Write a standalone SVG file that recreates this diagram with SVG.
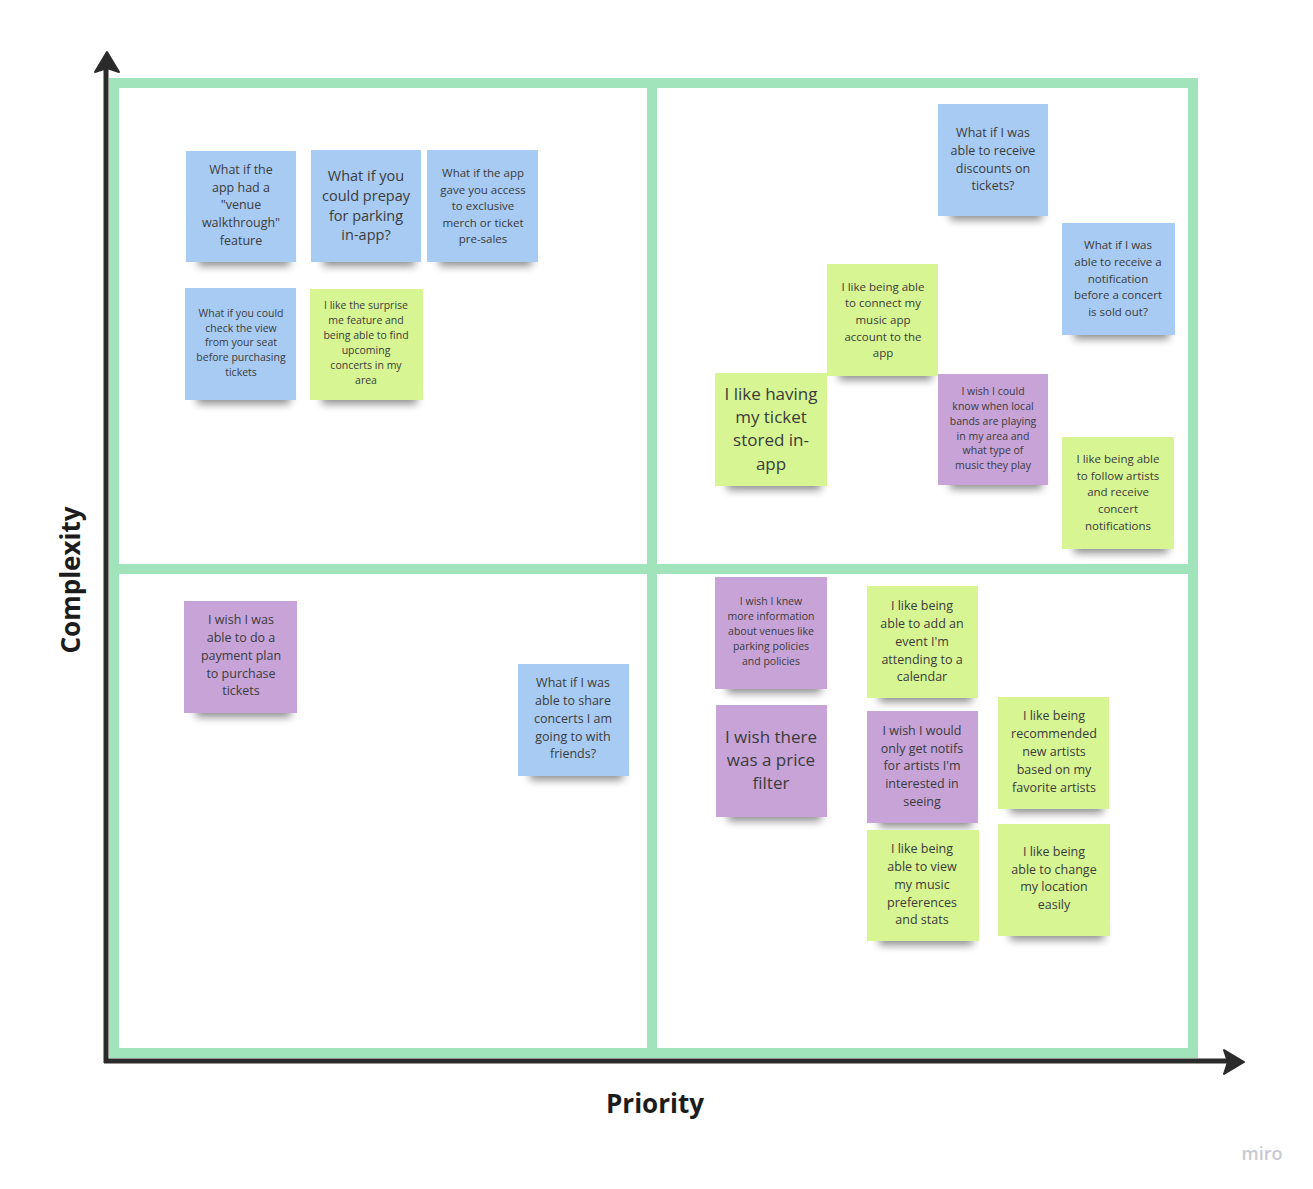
<svg xmlns="http://www.w3.org/2000/svg" width="1313" height="1189" viewBox="0 0 1313 1189">
<defs>
<filter id="blur" x="-20%" y="-100%" width="140%" height="300%"><feGaussianBlur stdDeviation="4"/></filter>
</defs>
<style>
.grid{fill:none;stroke:#a1e4bb;stroke-width:10}
.axis{stroke:#2b2b2b;stroke-width:5;fill:none}
.head{fill:#2b2b2b;stroke:#2b2b2b;stroke-width:2;stroke-linejoin:round}
.sh{fill:#000;opacity:0.45;filter:url(#blur)}
.blue{fill:#a8cbf3}
.green{fill:#d7f593}
.purple{fill:#c7a3d8}
text{font-family:"Open Sans","Noto Sans","Liberation Sans",sans-serif;fill:#3b3b3b;text-anchor:middle;dominant-baseline:central}
.label{font-weight:bold;fill:#1c1c1c;font-size:26px}
.miro{fill:#c9c9d1;font-size:18px;font-weight:600}
.s10{font-size:10.5px}.s11{font-size:11.5px}.s12{font-size:12.5px}.s14{font-size:14.5px}.s17{font-size:17px}
</style>
<rect width="1313" height="1189" fill="#ffffff"/>
<g id="grid">
<rect class="grid" x="114" y="83" width="1079" height="970"/>
<line class="grid" x1="652" y1="83" x2="652" y2="1053"/>
<line class="grid" x1="114" y1="569" x2="1193" y2="569"/>
</g>
<g id="connectors">
<line class="axis" x1="106" y1="1063" x2="106" y2="64"/>
<line class="axis" x1="104" y1="1061" x2="1236" y2="1061"/>
<path class="head" d="M107,52 L119,72 L107,68 L95,72 Z"/>
<path class="head" d="M1244,1062 L1224,1050 L1228,1062 L1224,1074 Z"/>
</g>
<text class="label" x="0" y="0" transform="translate(70,580) rotate(-90)">Complexity</text>
<text class="label" x="655" y="1103">Priority</text>
<text class="miro" x="1262" y="1153">miro</text>

<g id="n1"><rect class="sh" x="198" y="252" width="92" height="14"/><rect class="blue" x="186" y="151" width="110" height="111"/>
<text class="s12" x="241"><tspan x="241" y="169">What if the</tspan><tspan x="241" y="187">app had a</tspan><tspan x="241" y="204">"venue</tspan><tspan x="241" y="222">walkthrough"</tspan><tspan x="241" y="240">feature</tspan></text></g>

<g id="n2"><rect class="sh" x="323" y="252" width="92" height="14"/><rect class="blue" x="311" y="150" width="110" height="112"/>
<text class="s14" x="366"><tspan x="366" y="175">What if you</tspan><tspan x="366" y="195">could prepay</tspan><tspan x="366" y="215">for parking</tspan><tspan x="366" y="234">in-app?</tspan></text></g>

<g id="n3"><rect class="sh" x="439" y="252" width="93" height="14"/><rect class="blue" x="427" y="150" width="111" height="112"/>
<text class="s11" x="483"><tspan x="483" y="172">What if the app</tspan><tspan x="483" y="189">gave you access</tspan><tspan x="483" y="205">to exclusive</tspan><tspan x="483" y="222">merch or ticket</tspan><tspan x="483" y="238">pre-sales</tspan></text></g>

<g id="n4"><rect class="sh" x="197" y="390" width="93" height="14"/><rect class="blue" x="185" y="288" width="111" height="112"/>
<text class="s10" x="241"><tspan x="241" y="313">What if you could</tspan><tspan x="241" y="328">check the view</tspan><tspan x="241" y="342">from your seat</tspan><tspan x="241" y="357">before purchasing</tspan><tspan x="241" y="372">tickets</tspan></text></g>

<g id="n5"><rect class="sh" x="322" y="390" width="95" height="14"/><rect class="green" x="310" y="289" width="113" height="111"/>
<text class="s10" x="366"><tspan x="366" y="305">I like the surprise</tspan><tspan x="366" y="320">me feature and</tspan><tspan x="366" y="335">being able to find</tspan><tspan x="366" y="350">upcoming</tspan><tspan x="366" y="365">concerts in my</tspan><tspan x="366" y="380">area</tspan></text></g>

<g id="n6"><rect class="sh" x="950" y="206" width="92" height="14"/><rect class="blue" x="938" y="104" width="110" height="112"/>
<text class="s12" x="993"><tspan x="993" y="132">What if I was</tspan><tspan x="993" y="150">able to receive</tspan><tspan x="993" y="168">discounts on</tspan><tspan x="993" y="185">tickets?</tspan></text></g>

<g id="n7"><rect class="sh" x="1074" y="325" width="95" height="14"/><rect class="blue" x="1062" y="223" width="113" height="112"/>
<text class="s11" x="1118"><tspan x="1118" y="244">What if I was</tspan><tspan x="1118" y="261">able to receive a</tspan><tspan x="1118" y="278">notification</tspan><tspan x="1118" y="294">before a concert</tspan><tspan x="1118" y="311">is sold out?</tspan></text></g>

<g id="n8"><rect class="sh" x="839" y="366" width="93" height="14"/><rect class="green" x="827" y="264" width="111" height="112"/>
<text class="s11" x="883"><tspan x="883" y="286">I like being able</tspan><tspan x="883" y="302">to connect my</tspan><tspan x="883" y="319">music app</tspan><tspan x="883" y="336">account to the</tspan><tspan x="883" y="352">app</tspan></text></g>

<g id="n9"><rect class="sh" x="727" y="476" width="94" height="14"/><rect class="green" x="715" y="373" width="112" height="113"/>
<text class="s17" x="771"><tspan x="771" y="393">I like having</tspan><tspan x="771" y="416">my ticket</tspan><tspan x="771" y="439">stored in-</tspan><tspan x="771" y="463">app</tspan></text></g>

<g id="n10"><rect class="sh" x="950" y="475" width="92" height="14"/><rect class="purple" x="938" y="374" width="110" height="111"/>
<text class="s10" x="993"><tspan x="993" y="391">I wish I could</tspan><tspan x="993" y="406">know when local</tspan><tspan x="993" y="421">bands are playing</tspan><tspan x="993" y="436">in my area and</tspan><tspan x="993" y="450">what type of</tspan><tspan x="993" y="465">music they play</tspan></text></g>

<g id="n11"><rect class="sh" x="1074" y="539" width="94" height="14"/><rect class="green" x="1062" y="437" width="112" height="112"/>
<text class="s11" x="1118"><tspan x="1118" y="458">I like being able</tspan><tspan x="1118" y="475">to follow artists</tspan><tspan x="1118" y="491">and receive</tspan><tspan x="1118" y="508">concert</tspan><tspan x="1118" y="525">notifications</tspan></text></g>

<g id="n12"><rect class="sh" x="196" y="703" width="95" height="14"/><rect class="purple" x="184" y="601" width="113" height="112"/>
<text class="s12" x="241"><tspan x="241" y="619">I wish I was</tspan><tspan x="241" y="637">able to do a</tspan><tspan x="241" y="655">payment plan</tspan><tspan x="241" y="673">to purchase</tspan><tspan x="241" y="690">tickets</tspan></text></g>

<g id="n13"><rect class="sh" x="530" y="766" width="93" height="14"/><rect class="blue" x="518" y="664" width="111" height="112"/>
<text class="s12" x="573"><tspan x="573" y="682">What if I was</tspan><tspan x="573" y="700">able to share</tspan><tspan x="573" y="718">concerts I am</tspan><tspan x="573" y="736">going to with</tspan><tspan x="573" y="753">friends?</tspan></text></g>

<g id="n14"><rect class="sh" x="727" y="679" width="94" height="14"/><rect class="purple" x="715" y="577" width="112" height="112"/>
<text class="s10" x="771"><tspan x="771" y="601">I wish I knew</tspan><tspan x="771" y="616">more information</tspan><tspan x="771" y="631">about venues like</tspan><tspan x="771" y="646">parking policies</tspan><tspan x="771" y="661">and policies</tspan></text></g>

<g id="n15"><rect class="sh" x="879" y="688" width="93" height="14"/><rect class="green" x="867" y="586" width="111" height="112"/>
<text class="s12" x="922"><tspan x="922" y="605">I like being</tspan><tspan x="922" y="623">able to add an</tspan><tspan x="922" y="641">event I'm</tspan><tspan x="922" y="659">attending to a</tspan><tspan x="922" y="676">calendar</tspan></text></g>

<g id="n16"><rect class="sh" x="728" y="807" width="93" height="14"/><rect class="purple" x="716" y="705" width="111" height="112"/>
<text class="s17" x="771"><tspan x="771" y="736">I wish there</tspan><tspan x="771" y="759">was a price</tspan><tspan x="771" y="782">filter</tspan></text></g>

<g id="n17"><rect class="sh" x="879" y="813" width="93" height="14"/><rect class="purple" x="867" y="711" width="111" height="112"/>
<text class="s12" x="922"><tspan x="922" y="730">I wish I would</tspan><tspan x="922" y="748">only get notifs</tspan><tspan x="922" y="765">for artists I'm</tspan><tspan x="922" y="783">interested in</tspan><tspan x="922" y="801">seeing</tspan></text></g>

<g id="n18"><rect class="sh" x="1010" y="799" width="93" height="14"/><rect class="green" x="998" y="697" width="111" height="112"/>
<text class="s12" x="1054"><tspan x="1054" y="715">I like being</tspan><tspan x="1054" y="733">recommended</tspan><tspan x="1054" y="751">new artists</tspan><tspan x="1054" y="769">based on my</tspan><tspan x="1054" y="787">favorite artists</tspan></text></g>

<g id="n19"><rect class="sh" x="879" y="931" width="94" height="14"/><rect class="green" x="867" y="830" width="112" height="111"/>
<text class="s12" x="922"><tspan x="922" y="848">I like being</tspan><tspan x="922" y="866">able to view</tspan><tspan x="922" y="884">my music</tspan><tspan x="922" y="902">preferences</tspan><tspan x="922" y="919">and stats</tspan></text></g>

<g id="n20"><rect class="sh" x="1010" y="926" width="94" height="14"/><rect class="green" x="998" y="824" width="112" height="112"/>
<text class="s12" x="1054"><tspan x="1054" y="851">I like being</tspan><tspan x="1054" y="869">able to change</tspan><tspan x="1054" y="886">my location</tspan><tspan x="1054" y="904">easily</tspan></text></g>
</svg>
